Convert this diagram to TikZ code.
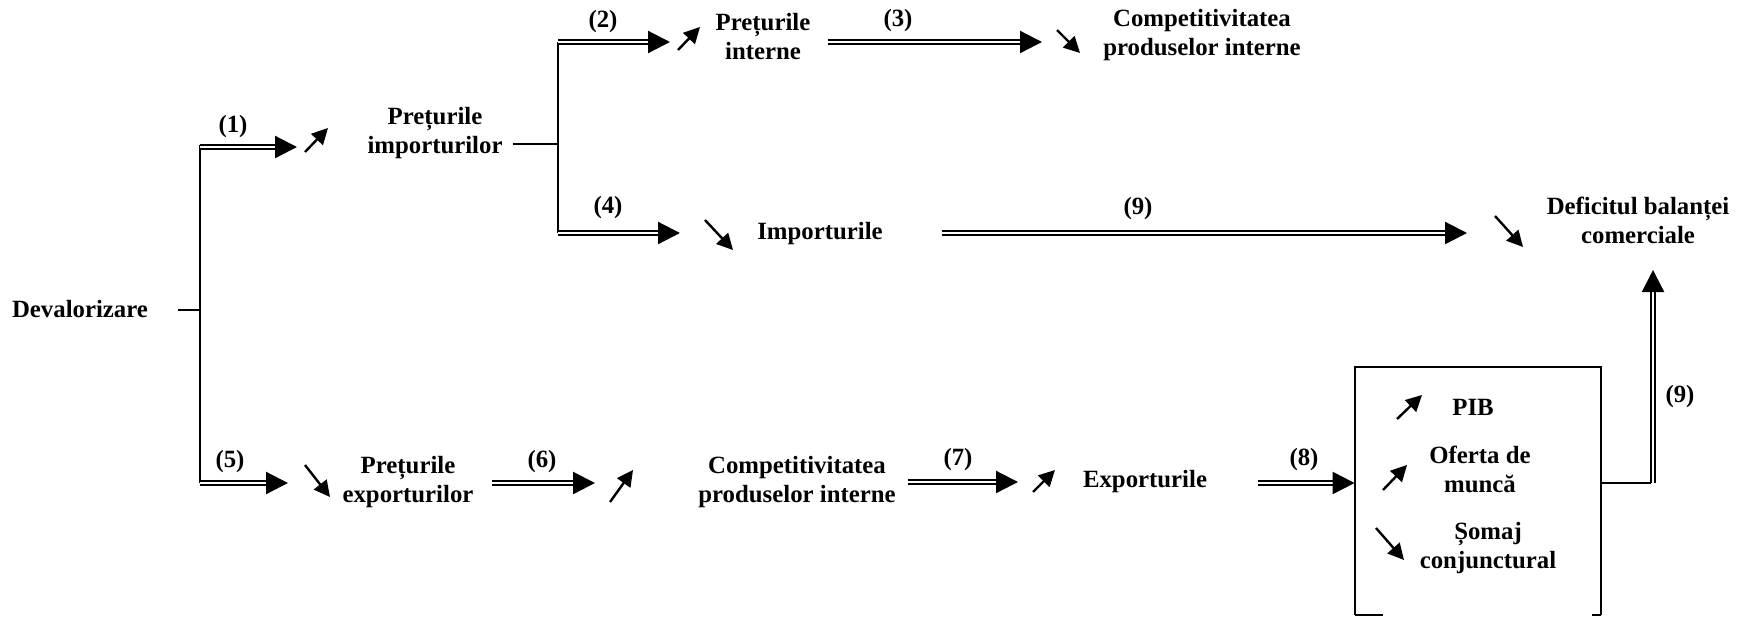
\documentclass[tikz,border=0pt]{standalone}
\usepackage{fontspec}
\setmainfont{Liberation Serif}
\usetikzlibrary{arrows.meta}
\begin{document}
\begin{tikzpicture}[x=0.5pt,y=-0.5pt,
  txt/.style={font=\fontsize{12.4}{14.5}\selectfont\bfseries, align=center, inner sep=0pt},
  num/.style={font=\fontsize{12.4}{14}\selectfont\bfseries, inner sep=0pt},
  dbl/.style={double, line width=1.1pt, double distance=1.2pt, -{Triangle[length=11pt,width=11pt]}},
  plain/.style={line width=1pt},
  ind/.style={line width=1.2pt, -{Triangle[length=8pt,width=8pt]}},
]
\useasboundingbox (0,0) rectangle (1749,616);

% text nodes
\node[txt] (dev)   at (80,309)   {Devalorizare};
\node[txt] (pimp)  at (435,133)  {Prețurile\\importurilor};
\node[txt] (pint)  at (763,37)   {Prețurile\\interne};
\node[txt] (comp1) at (1202,35)  {Competitivitatea\\produselor interne};
\node[txt] (imp)   at (820,234)  {Importurile};
\node[txt] (def)   at (1638,220) {Deficitul balanței\\comerciale};
\node[txt] (pexp)  at (408,482)  {Prețurile\\exporturilor};
\node[txt] (comp2) at (797,482)  {Competitivitatea\\produselor interne};
\node[txt] (exp)   at (1145,482) {Exporturile};

% effects box
\node[minimum width=123pt, minimum height=124pt, inner sep=0pt] (box) at (1478,491) {};
\draw[plain] (box.south west) -- (box.north west) -- (box.north east) -- (box.south east);
\draw[plain] (box.south west) -- ++(28,0);
\draw[plain] (box.south east) -- ++(-9,0);
\node[txt] (pib) at (1473,407) {PIB};
\node[txt] (of)  at (1480,469) {Oferta de\\muncă};
\node[txt] (som) at (1488,548) {Șomaj\\conjunctural};

% branch points
\coordinate (j0)  at (178,310);
\coordinate (j1)  at (200,310);
\coordinate (j1t) at (200,145);
\coordinate (j1b) at (200,483);
\coordinate (j2)  at (558,144);
\coordinate (j2t) at (558,42);
\coordinate (j2b) at (558,233);
\coordinate (j3)  at (1653,483);

% trees
\draw[plain] (j0) -- (j1);
\draw[plain] (j1t) -- (j1b);
\draw[plain] (pimp.east |- j2) ++(10,0) -- (j2);
\draw[plain] (j2t) -- (j2b);

% double-line arrows
\draw[dbl] (200,147) -- (297,147);
\draw[dbl] (j2t) -- (670,42);
\draw[dbl] (828,42) -- (1042,42);
\draw[dbl] (j2b) -- (680,233);
\draw[dbl] (942,233) -- (1467,233);
\draw[dbl] (200,483) -- (288,483);
\draw[dbl] (492,483) -- (595,483);
\draw[dbl] (908,482) -- (1018,482);
\draw[dbl] (1258,483) -- (box.west |- 0,483);
\draw[plain] (box.east |- j3) -- (1651,483);
\draw[dbl] (j3) -- (j3 |- 0,270);

% step labels
\node[num] (l1) at (233,127) {(1)};
\node[num] (l2) at (603,22)  {(2)};
\node[num] (l3) at (898,21)  {(3)};
\node[num] (l4) at (608,208) {(4)};
\node[num] (l9) at (1138,209) {(9)};
\node[num] (l5) at (230,462) {(5)};
\node[num] (l6) at (542,462) {(6)};
\node[num] (l7) at (958,460) {(7)};
\node[num] (l8) at (1304,460) {(8)};
\node[num] (l9v) at (1680,397) {(9)};

% rise / fall indicators
\draw[ind] (305,152) -- (328,128);
\draw[ind] (678,50) -- (700,27);
\draw[ind] (1057,30) -- (1080,53);
\draw[ind] (705,220) -- (733,250);
\draw[ind] (1495,216) -- (1523,247);
\draw[ind] (305,465) -- (330,497);
\draw[ind] (610,502) -- (633,470);
\draw[ind] (1033,492) -- (1055,470);
\draw[ind] (1397,419) -- (1422,395);
\draw[ind] (1383,490) -- (1407,465);
\draw[ind] (1376,528) -- (1404,560);
\end{tikzpicture}
\end{document}
